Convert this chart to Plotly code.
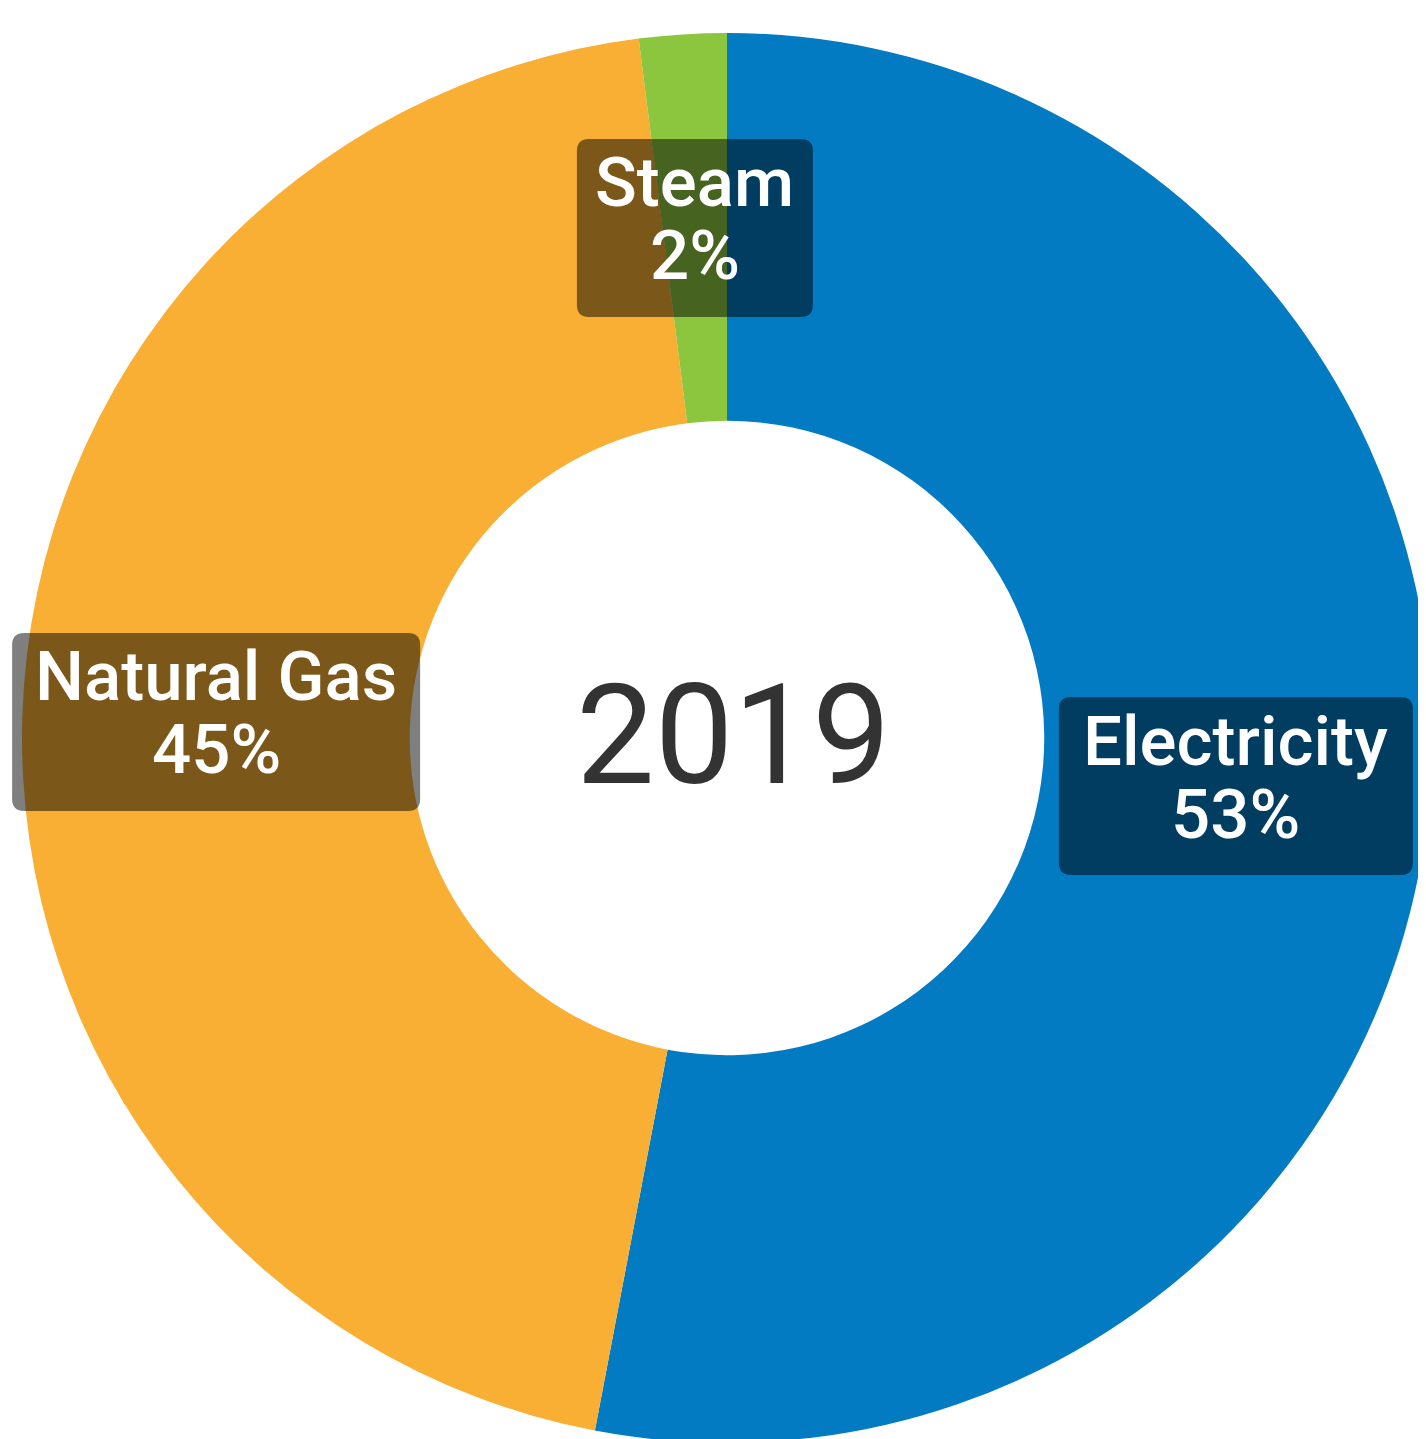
import math
import plotly.graph_objects as go

# ---- data ----
labels = ["Electricity", "Natural Gas", "Steam"]
values = [53, 45, 2]
colors = ["#037BC2", "#F9AE34", "#8CC63F"]
center_label = "2019"

# ---- layout geometry (page body adds an 8px offset) ----
W, H = 1424, 1435
ML, MT, MR, MB = 14, 25, 0, 0
HOLE = 0.45
pw, ph = W - ML - MR, H - MT - MB
R = min(pw, ph) / 2
cx = ML + pw / 2
cy = MT + ph / 2

FONT = "Roboto"
box_w = {"Electricity": 354, "Natural Gas": 408, "Steam": 236}
BOX_H = 178
CORNER = 12


def to_paper(x, y):
    return (x - ML) / pw, 1 - (y - MT) / ph


def rounded_rect(x0, y0, x1, y1, r):
    def P(x, y):
        px, py = to_paper(x, y)
        return f"{px:.6f},{py:.6f}"

    return (
        f"M {P(x0 + r, y0)} L {P(x1 - r, y0)} Q {P(x1, y0)} {P(x1, y0 + r)} "
        f"L {P(x1, y1 - r)} Q {P(x1, y1)} {P(x1 - r, y1)} "
        f"L {P(x0 + r, y1)} Q {P(x0, y1)} {P(x0, y1 - r)} "
        f"L {P(x0, y0 + r)} Q {P(x0, y0)} {P(x0 + r, y0)} Z"
    )


fig = go.Figure(
    go.Pie(
        labels=labels,
        values=values,
        marker=dict(colors=colors, line=dict(width=0)),
        hole=HOLE,
        sort=False,
        direction="clockwise",
        rotation=0,
        textinfo="none",
        hoverinfo="label+percent",
        showlegend=False,
        domain=dict(x=[0, 1], y=[0, 1]),
    )
)

total = sum(values)
rl = R * (1 + HOLE) / 2
cum = 0
shapes = []
annotations = []
for lab, v in zip(labels, values):
    mid = (cum + v / 2) / total * 2 * math.pi
    cum += v
    lx = cx + rl * math.sin(mid)
    ly = cy - rl * math.cos(mid)
    bw = box_w[lab]
    shapes.append(
        dict(
            type="path",
            xref="paper",
            yref="paper",
            path=rounded_rect(lx - bw / 2, ly - BOX_H / 2, lx + bw / 2, ly + BOX_H / 2, CORNER),
            fillcolor="rgba(0,0,0,0.5)",
            line=dict(width=0),
            layer="above",
        )
    )
    ax, ay = to_paper(lx, ly)
    annotations.append(
        dict(
            x=ax, y=ay, xref="paper", yref="paper", text=lab, showarrow=False,
            xanchor="center", yanchor="middle", yshift=45,
            font=dict(family=FONT, size=69, color="white", weight=500),
        )
    )
    annotations.append(
        dict(
            x=ax, y=ay, xref="paper", yref="paper",
            text=f"{round(v / total * 100)}%", showarrow=False,
            xanchor="center", yanchor="middle", yshift=-28,
            font=dict(family=FONT, size=69, color="white", weight=500),
        )
    )

cxp, cyp = to_paper(cx, cy)
annotations.append(
    dict(
        x=cxp, y=cyp, xref="paper", yref="paper", text=center_label, showarrow=False,
        xanchor="center", yanchor="middle", xshift=6, yshift=3,
        font=dict(family=FONT, size=140, color="#333333"),
    )
)

fig.update_layout(
    width=W,
    height=H,
    margin=dict(l=ML, t=MT, r=MR, b=MB, pad=0),
    paper_bgcolor="white",
    plot_bgcolor="white",
    shapes=shapes,
    annotations=annotations,
)

fig.write_html("out.html")
